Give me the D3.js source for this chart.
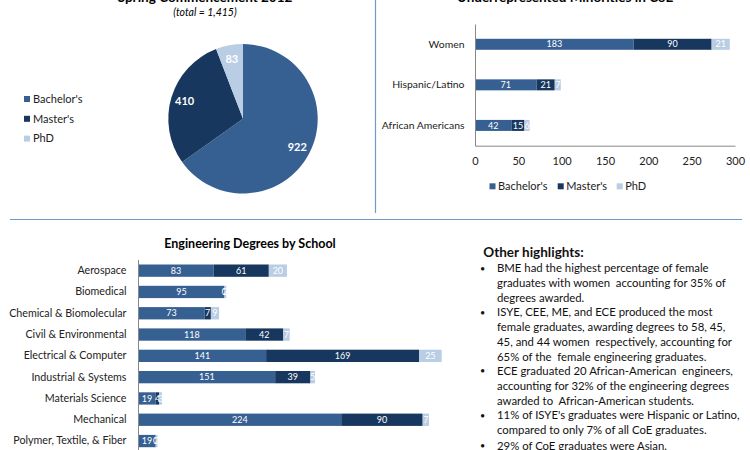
<!DOCTYPE html>
<html><head><meta charset="utf-8">
<script src="https://cdn.jsdelivr.net/npm/d3@7"></script>
<style>
html,body{margin:0;padding:0;background:#fff;}
svg{display:block;font-family:Lato,"Open Sans",sans-serif;}
</style></head>
<body>
<svg id="c" width="750" height="450"></svg>
<script>
// ---- data ----
const degreeTypes = ["Bachelor's", "Master's", "PhD"];
const degreeColors = ["#376092", "#17375E", "#B9CDE5"];
const pieValues = [922, 410, 83];
const pieTotalLabel = "(total = 1,415)";

const minorityCats = ["Women", "Hispanic/Latino", "African Americans"];
const minorityBachelors = [183, 71, 42];
const minorityMasters = [90, 21, 15];
const minorityPhD = [21, 7, 6];
const minorityTicks = [0, 50, 100, 150, 200, 250, 300];

const schools = ["Aerospace", "Biomedical", "Chemical & Biomolecular", "Civil & Environmental",
  "Electrical & Computer", "Industrial & Systems", "Materials Science", "Mechanical",
  "Polymer, Textile, & Fiber"];
const schoolBachelors = [83, 95, 73, 118, 141, 151, 19, 224, 19];
const schoolMasters = [61, 0, 7, 42, 169, 39, 4, 90, 0];
const schoolPhD = [20, 2, 9, 7, 25, 5, 3, 7, 2];

const highlightTitle = "Other highlights:";
const highlights = [
  ["BME had the highest percentage of female", "graduates with women  accounting for 35% of", "degrees awarded."],
  ["ISYE, CEE, ME, and ECE produced the most", "female graduates, awarding degrees to 58, 45,", "45, and 44 women  respectively, accounting for", "65% of the  female engineering graduates."],
  ["ECE graduated 20 African-American  engineers,", "accounting for 32% of the engineering degrees", "awarded to  African-American students."],
  ["11% of ISYE's graduates were Hispanic or Latino,", "compared to only 7% of all CoE graduates."],
  ["29% of CoE graduates were Asian."]
];

const svg = d3.select("#c");
const color = d3.scaleOrdinal().domain(degreeTypes).range(degreeColors);

// ---- dividers ----
svg.append("line").attr("x1", 375.5).attr("x2", 375.5).attr("y1", 0).attr("y2", 213)
  .attr("stroke", "#7199CB").attr("stroke-width", 1.2);
svg.append("line").attr("x1", 10).attr("x2", 742).attr("y1", 219.5).attr("y2", 219.5)
  .attr("stroke", "#7199CB").attr("stroke-width", 1.2);

// ---- pie ----
svg.append("text").attr("x", 205).attr("y", 2).attr("text-anchor", "middle")
  .attr("font-weight", "bold").attr("font-size", 13.5).text("Spring Commencement 2012");
svg.append("text").attr("x", 205).attr("y", 16).attr("text-anchor", "middle")
  .attr("font-style", "italic").attr("font-size", 10.5).text(pieTotalLabel);

const pieData = degreeTypes.map((k, i) => ({ key: k, value: pieValues[i] }));
const pie = d3.pie().value(d => d.value).sort(null);
const arc = d3.arc().innerRadius(0).outerRadius(74.7);
const labelArc = d3.arc().innerRadius(61).outerRadius(61);
const pg = svg.append("g").attr("transform", "translate(243,118.8)");
const arcs = pie(pieData);
pg.selectAll("path").data(arcs).join("path").attr("d", arc).attr("fill", d => color(d.data.key));
pg.selectAll("text").data(arcs).join("text")
  .attr("transform", d => `translate(${labelArc.centroid(d)})`)
  .attr("text-anchor", "middle").attr("dy", "0.35em")
  .attr("fill", "#fff").attr("font-weight", "bold").attr("font-size", 11)
  .text(d => d.data.value);

const pl = svg.append("g");
degreeTypes.forEach((k, i) => {
  const y = 99 + i * 19.8;
  pl.append("rect").attr("x", 24).attr("y", y - 3).attr("width", 6).attr("height", 6).attr("fill", color(k));
  pl.append("text").attr("x", 33).attr("y", y).attr("dy", "0.35em").attr("font-size", 11).attr("fill", "#222").text(k);
});

// ---- minorities chart ----
svg.append("text").attr("x", 565).attr("y", 2).attr("text-anchor", "middle")
  .attr("font-weight", "bold").attr("font-size", 13.5).text("Underrepresented Minorities in CoE");

const mx = d3.scaleLinear().domain([0, 300]).range([475, 735]);
const my = d3.scaleBand().domain(minorityCats).range([24, 145.7]);
const mBarH = 11;
const mg = svg.append("g");
const minSeries = [minorityBachelors, minorityMasters, minorityPhD];
minorityCats.forEach((c, i) => {
  let acc = 0;
  minSeries.forEach((s, j) => {
    const v = s[i];
    const y0 = my(c) + (my.bandwidth() - mBarH) / 2;
    mg.append("rect").attr("x", mx(acc)).attr("y", y0).attr("width", mx(acc + v) - mx(acc))
      .attr("height", mBarH).attr("fill", degreeColors[j]);
    mg.append("text").attr("x", (mx(acc) + mx(acc + v)) / 2).attr("y", y0 + mBarH / 2).attr("dy", "0.35em")
      .attr("text-anchor", "middle").attr("fill", "#fff").attr("font-size", 9).text(v);
    acc += v;
  });
});
const mAxisY = svg.append("g").attr("transform", "translate(475,0)")
  .call(d3.axisLeft(my).tickSize(0).tickPadding(10.5));
mAxisY.select(".domain").attr("stroke", "#888");
mAxisY.selectAll("text").attr("font-size", 10.4).attr("fill", "#222").attr("font-family", "Lato");
const mAxisX = svg.append("g").attr("transform", "translate(0,145.7)")
  .call(d3.axisBottom(mx).tickValues(minorityTicks).tickSize(0).tickPadding(12));
mAxisX.select(".domain").attr("stroke", "#888");
mAxisX.selectAll("text").attr("font-size", 11).attr("fill", "#222").attr("font-family", "Lato");

const legX = [489.5, 557.7, 616.7];
degreeTypes.forEach((k, i) => {
  svg.append("rect").attr("x", legX[i]).attr("y", 183.3).attr("width", 6).attr("height", 6).attr("fill", color(k));
  svg.append("text").attr("x", legX[i] + 8.5).attr("y", 186.3).attr("dy", "0.35em").attr("font-size", 11)
    .attr("fill", "#222").text(k);
});

// ---- schools chart ----
svg.append("text").attr("x", 250).attr("y", 247.5).attr("text-anchor", "middle")
  .attr("font-weight", "bold").attr("font-size", 12.5).text("Engineering Degrees by School");

const sx = d3.scaleLinear().domain([0, 350]).range([138.5, 138.5 + 350 * 0.905]);
const sy = d3.scaleBand().domain(schools).range([260, 260 + 9 * 21.3]);
const sBarH = 12.3;
const sg = svg.append("g");
const schSeries = [schoolBachelors, schoolMasters, schoolPhD];
schools.forEach((c, i) => {
  let acc = 0;
  schSeries.forEach((s, j) => {
    const v = s[i];
    const y0 = sy(c) + (sy.bandwidth() - sBarH) / 2;
    sg.append("rect").attr("x", sx(acc)).attr("y", y0).attr("width", sx(acc + v) - sx(acc))
      .attr("height", sBarH).attr("fill", degreeColors[j]);
    sg.append("text").attr("x", (sx(acc) + sx(acc + v)) / 2).attr("y", y0 + sBarH / 2).attr("dy", "0.35em")
      .attr("text-anchor", "middle").attr("fill", "#fff").attr("font-size", 9).text(v);
    acc += v;
  });
});
const sAxisY = svg.append("g").attr("transform", "translate(138.5,0)")
  .call(d3.axisLeft(sy).tickSize(0).tickPadding(12));
sAxisY.select(".domain").attr("stroke", "#888").attr("d", "M0,260V452");
sAxisY.selectAll("text").attr("font-size", 10.7).attr("fill", "#222").attr("font-family", "Lato");

// ---- highlights ----
svg.append("text").attr("x", 483.3).attr("y", 257).attr("font-weight", "bold").attr("font-size", 13.5)
  .attr("fill", "#111").text(highlightTitle);
let line = 0;
const hg = svg.append("g").attr("font-size", 11.35).attr("fill", "#111");
highlights.forEach((b, bi) => {
  const extra = bi === highlights.length - 1 ? 1.5 : 0;
  hg.append("text").attr("x", 482.5).attr("y", 271.5 + line * 14.7 + extra).attr("text-anchor", "middle")
    .attr("font-size", 9).text("•");
  b.forEach(t => {
    hg.append("text").attr("x", 497).attr("y", 272.3 + line * 14.7 + extra).attr("xml:space", "preserve").text(t);
    line++;
  });
});
</script>
</body></html>
